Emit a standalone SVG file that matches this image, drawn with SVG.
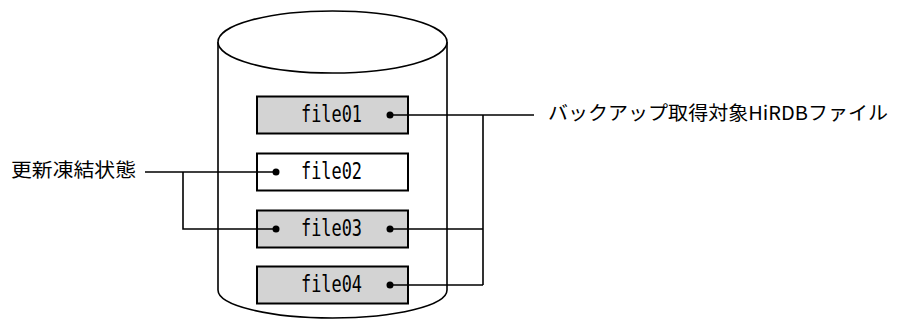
<svg xmlns="http://www.w3.org/2000/svg" width="897" height="320" viewBox="0 0 897 320">
<style>
.cyl{fill:#fff;stroke:#000;stroke-width:1.6}
.box{stroke:#000;stroke-width:2}
.gray{fill:#d3d3d3}
.white{fill:#fff}
.ft{font-family:"DejaVu Sans Mono","Liberation Mono",monospace;font-size:23px;fill:#000}
.lbl{font-family:"Noto Sans CJK JP","Noto Sans",sans-serif;font-size:19px;fill:#000}
.ln{fill:none;stroke:#000;stroke-width:1.6}
.dot{fill:#000}
</style>
<rect width="897" height="320" fill="#fff"/>
<g id="cylinder">
<path class="cyl" d="M218,42 V290 A114.5,28 0 0 0 447,290 V42"/>
<ellipse class="cyl" cx="332.5" cy="42" rx="114.5" ry="31"/>
</g>
<g id="file01">
<rect class="box gray" x="257" y="96.5" width="151" height="37"/>
<text class="ft" x="301" y="121.5" textLength="61" lengthAdjust="spacingAndGlyphs">file01</text>
</g>
<g id="file02">
<rect class="box white" x="257" y="153.5" width="151" height="37"/>
<text class="ft" x="301" y="178.5" textLength="61" lengthAdjust="spacingAndGlyphs">file02</text>
</g>
<g id="file03">
<rect class="box gray" x="257" y="210.5" width="151" height="37"/>
<text class="ft" x="301" y="235.5" textLength="61" lengthAdjust="spacingAndGlyphs">file03</text>
</g>
<g id="file04">
<rect class="box gray" x="257" y="266.5" width="151" height="37"/>
<text class="ft" x="301" y="291.5" textLength="61" lengthAdjust="spacingAndGlyphs">file04</text>
</g>
<g id="label-frozen">
<text class="lbl" x="11" y="177" textLength="125" lengthAdjust="spacingAndGlyphs">更新凍結状態</text>
</g>
<g id="label-backup">
<text class="lbl" x="548" y="120" textLength="340" lengthAdjust="spacingAndGlyphs">バックアップ取得対象HiRDBファイル</text>
</g>
<g id="connectors">
<path class="ln" d="M145,172 H276 M183,172 V229 H276"/>
<path class="ln" d="M390,115 H534 M483,115 V285 M390,229 H483 M390,285 H483"/>
<circle class="dot" cx="390" cy="115" r="3.5"/>
<circle class="dot" cx="276" cy="172" r="3.5"/>
<circle class="dot" cx="276" cy="229" r="3.5"/>
<circle class="dot" cx="390" cy="229" r="3.5"/>
<circle class="dot" cx="390" cy="285" r="3.5"/>
</g>
</svg>
